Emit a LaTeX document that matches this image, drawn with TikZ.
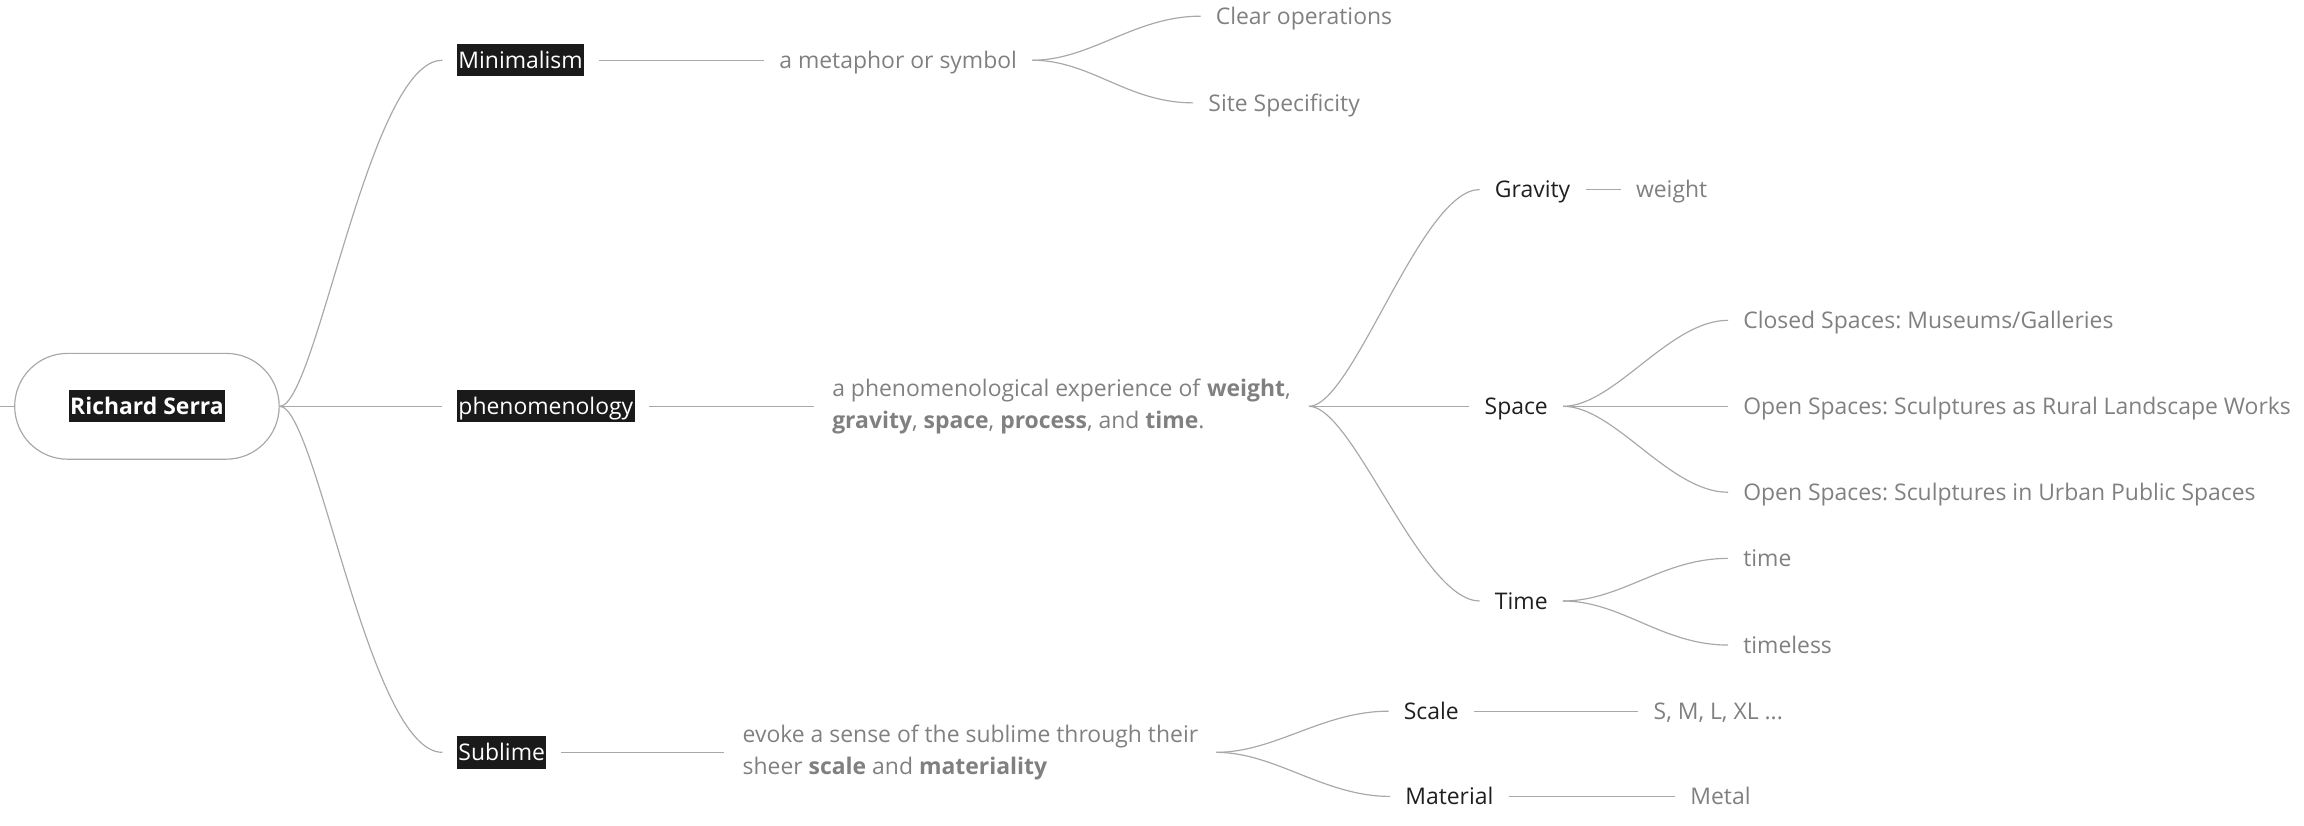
\documentclass[tikz,border=0pt]{standalone}
\usepackage{fontspec}
\setmainfont{Open Sans}
\definecolor{linegray}{HTML}{A8A8A8}
\definecolor{txtgray}{HTML}{808080}
\definecolor{boxblack}{HTML}{1A1A1A}
\definecolor{darktxt}{HTML}{1F1F1F}
\newcommand\mapfont{\fontsize{7.8}{11}\selectfont\frenchspacing}

\begin{document}
\begin{tikzpicture}[x=0.5pt,y=-0.5pt,font=\mapfont]
\tikzstyle{topic}=[fill=boxblack,text=white,inner xsep=0.5pt,inner ysep=0pt,text height=8.3pt,text depth=2.7pt,outer xsep=5pt]
\tikzstyle{sub}=[text=darktxt,inner xsep=5pt,inner ysep=0pt,text height=8.3pt,text depth=2.7pt,anchor=west]
\tikzstyle{leaf}=[sub,text=txtgray]
\tikzstyle{note}=[text=txtgray,inner xsep=5pt,inner ysep=0pt,align=left,anchor=west]
\tikzstyle{link}=[draw=linegray,line width=0.4pt]
\useasboundingbox (0,0) rectangle (1568,562);
% central topic
\node[draw=linegray,line width=0.4pt,rounded corners=18pt,minimum width=90pt,minimum height=36pt] (root) at (100,276.5) {};
\node[topic,font=\mapfont\bfseries,outer xsep=0pt] (rootname) at (root) {Richard Serra};
\coordinate (edge) at (0,276.5);
\draw[link] (edge) -- (root.west);
% main branches
\node[topic,anchor=west] (mini) at (301,41) {Minimalism};
\node[topic,anchor=west] (phen) at (301,276.5) {phenomenology};
\node[topic,anchor=west] (subl) at (301,512) {Sublime};
\draw[link] (root.east) .. controls +(25,0) and +(-50,0) .. (mini.west);
\draw[link] (root.east) -- (phen.west);
\draw[link] (root.east) .. controls +(25,0) and +(-50,0) .. (subl.west);
% Minimalism
\node[leaf] (meta) at (520,41) {a metaphor or symbol};
\node[leaf] (clear) at (817,11) {Clear operations};
\node[leaf] (site) at (812,70) {Site Specificity};
\draw[link] (mini.east) -- (meta.west);
\draw[link] (meta.east) .. controls +(40,0) and +(-45,0) .. (clear.west);
\draw[link] (meta.east) .. controls +(40,0) and +(-45,0) .. (site.west);
% phenomenology
\node[note,inner xsep=6pt] (exp) at (554,276.5) {a phenomenological experience of \textbf{weight},\\\textbf{gravity}, \textbf{space}, \textbf{process}, and \textbf{time}.};
\node[sub] (grav) at (1007,129) {Gravity};
\node[leaf] (weight) at (1103,129) {weight};
\node[sub] (space) at (1000,276.5) {Space};
\node[leaf] (closed) at (1176,218) {Closed Spaces: Museums/Galleries};
\node[leaf] (rural) at (1176,276.5) {Open Spaces: Sculptures as Rural Landscape Works};
\node[leaf] (urban) at (1176,335) {Open Spaces: Sculptures in Urban Public Spaces};
\node[sub] (time) at (1007,409) {Time};
\node[leaf] (now) at (1176,380) {time};
\node[leaf] (timeless) at (1176,439) {timeless};
\draw[link] (phen.east) -- (exp.west);
\draw[link] (exp.east) .. controls +(30,0) and +(-40,0) .. (grav.west);
\draw[link] (exp.east) -- (space.west);
\draw[link] (exp.east) .. controls +(30,0) and +(-40,0) .. (time.west);
\draw[link] (grav.east) -- (weight.west);
\draw[link] (space.east) .. controls +(35,0) and +(-40,0) .. (closed.west);
\draw[link] (space.east) -- (rural.west);
\draw[link] (space.east) .. controls +(35,0) and +(-40,0) .. (urban.west);
\draw[link] (time.east) .. controls +(40,0) and +(-45,0) .. (now.west);
\draw[link] (time.east) .. controls +(40,0) and +(-45,0) .. (timeless.west);
% Sublime
\node[note,inner xsep=6pt] (awe) at (493,512) {evoke a sense of the sublime through their\\sheer \textbf{scale} and \textbf{materiality}};
\node[sub] (scale) at (945,484) {Scale};
\node[leaf] (sizes) at (1115,484) {S, M, L, XL ...};
\node[sub] (material) at (946,542) {Material};
\node[leaf] (metal) at (1140,542) {Metal};
\draw[link] (subl.east) -- (awe.west);
\draw[link] (awe.east) .. controls +(40,0) and +(-45,0) .. (scale.west);
\draw[link] (awe.east) .. controls +(40,0) and +(-45,0) .. (material.west);
\draw[link] (scale.east) -- (sizes.west);
\draw[link] (material.east) -- (metal.west);
\end{tikzpicture}
\end{document}
